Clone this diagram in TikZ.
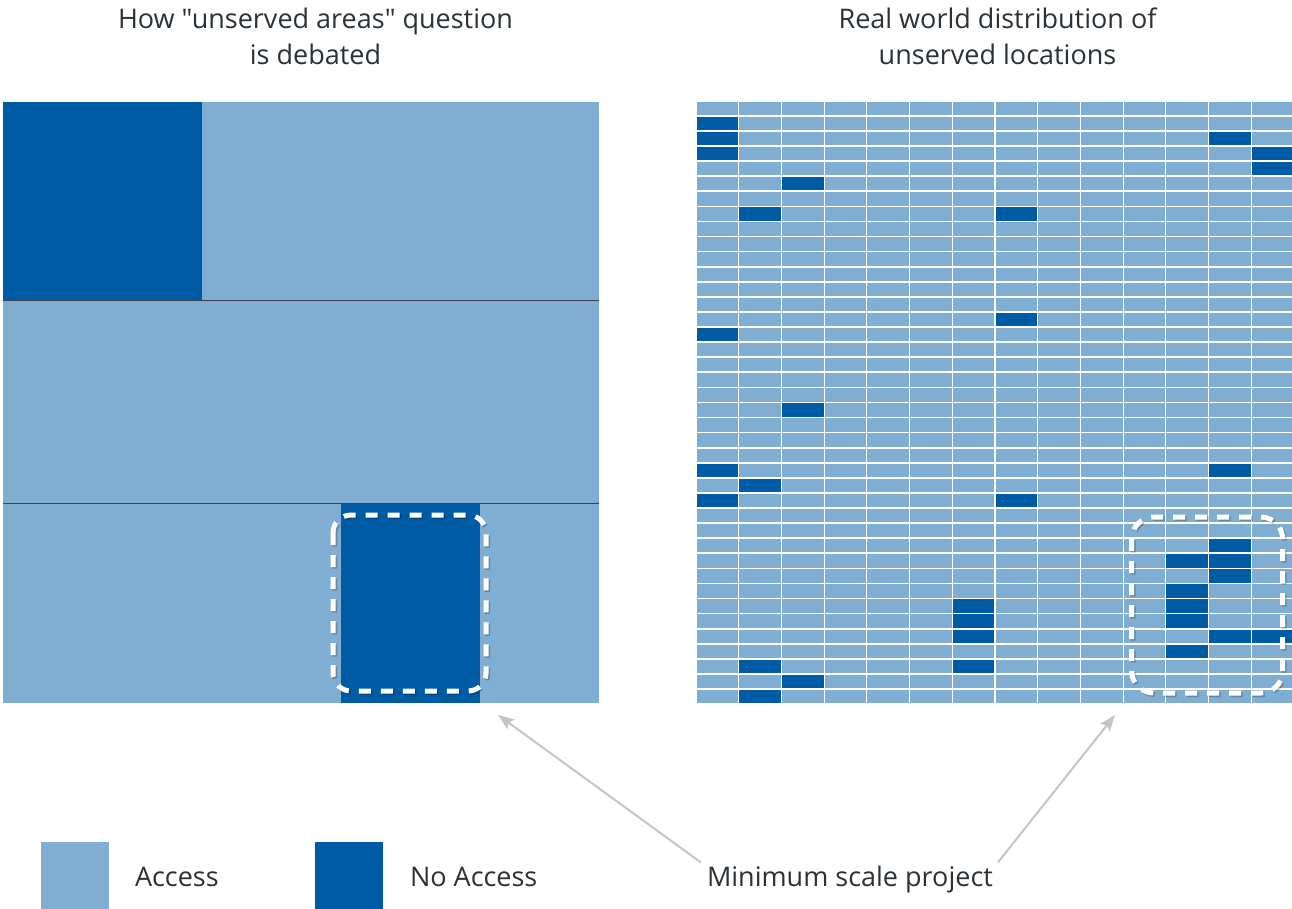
\documentclass[tikz,border=0pt]{standalone}
\usepackage{fontspec}
\setmainfont{Open Sans}[Ligatures=TeXOff]
\usetikzlibrary{arrows.meta,calc}
\definecolor{lightb}{HTML}{80ADD2}
\definecolor{darkb}{HTML}{005BA5}
\definecolor{txt}{HTML}{2B3237}
\definecolor{arr}{HTML}{C3C6C8}
\definecolor{divl}{HTML}{3C4450}
\begin{document}
\begin{tikzpicture}[x=1pt,y=-1pt,
  lbl/.style={inner sep=0pt, outer sep=0pt, text=txt, font=\fontsize{27}{36}\selectfont},
  dashbox/.style={draw=white, line width=5pt, dash pattern=on 12pt off 10pt},
  dashshadow/.style={draw=black, opacity=0.22, line width=5pt, dash pattern=on 12pt off 10pt},
  pointer/.style={draw=arr, line width=2pt, -{Stealth[length=16pt,width=12pt,inset=3pt]}},
  legsq/.style={minimum width=68pt, minimum height=67pt, inner sep=0pt, outer sep=0pt}]

\useasboundingbox[fill=white] (0,0) rectangle (1292,909);

% titles
\node[lbl, anchor=base] (t1a) at (315.5,29) {How "unserved areas" question};
\node[lbl, anchor=base] (t1b) at (315.5,65) {is debated};
\node[lbl, anchor=base] (t2a) at (997.5,29) {Real world distribution of};
\node[lbl, anchor=base] (t2b) at (997.5,65) {unserved locations};

% left panel
\fill[lightb] (3,102) rectangle (598.5,703);
\fill[darkb] (3,102) rectangle (202,300.5);
\fill[darkb] (341,503.5) rectangle (480,703);
\draw[divl, line width=1.3pt] (3,300.5) -- (598.5,300.5);
\draw[divl, line width=1.3pt] (3,503.5) -- (598.5,503.5);

% right grid
\foreach \c in {0,...,13} {
  \foreach \r in {0,...,39} {
    \fill[lightb] (696.7+42.69*\c, 101.7+15.08*\r) rectangle ++(41.6,13.4);
  }
}
\foreach \c/\r in {0/1,0/2,0/3,12/2,13/3,13/4,2/5,1/7,7/7,7/14,0/15,2/20,
  0/24,12/24,1/25,0/26,7/26,12/29,11/30,12/30,12/31,11/32,6/33,11/33,
  6/34,11/34,6/35,12/35,13/35,11/36,1/37,6/37,2/38,1/39} {
  \fill[darkb] (696.7+42.69*\c, 101.7+15.08*\r) rectangle ++(41.6,13.4);
}

% dashed outlines
\draw[dashshadow, rounded corners=18pt] (334.5,516.5) rectangle (487.5,692.5);
\draw[dashbox, rounded corners=18pt] (333,515) rectangle (486,691);
\draw[dashshadow, rounded corners=22pt] (1133.2,518.5) rectangle (1284.2,694.5);
\draw[dashbox, rounded corners=22pt] (1131.7,517) rectangle (1282.7,693);

% legend
\node[legsq, fill=lightb] (sqA) at (75,875.5) {};
\node[lbl, anchor=base west] (lA) at (135,886) {Access};
\node[legsq, fill=darkb] (sqN) at (349,875.5) {};
\node[lbl, anchor=base west] (lN) at (410,886) {No Access};
\node[lbl, anchor=base west] (msp) at (707,886) {Minimum scale project};

% pointers
\coordinate (tipL) at (498,715);
\coordinate (tipR) at (1115,715);
\draw[pointer] ($(msp.north west)+(-6,-3)$) -- (tipL);
\draw[pointer] ($(msp.north east)+(5,-3)$) -- (tipR);
\end{tikzpicture}
\end{document}
